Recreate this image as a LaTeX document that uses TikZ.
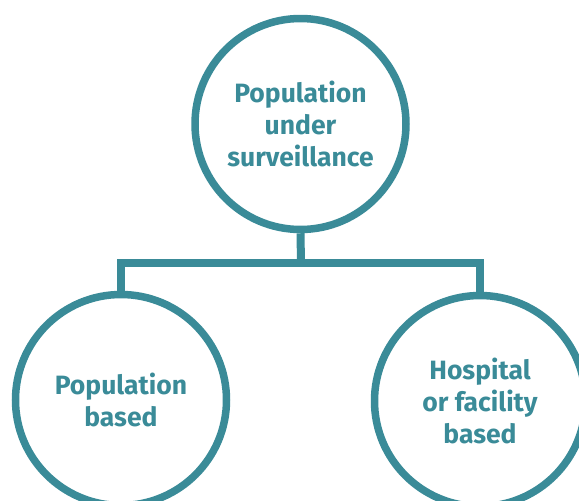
\documentclass[tikz,border=0pt]{standalone}
\usepackage{fontspec}
\setmainfont{Fira Sans}
\definecolor{teal1}{HTML}{3A8B98}
\begin{document}
\begin{tikzpicture}[x=1pt,y=-1pt,
  bubble/.style={circle,draw=teal1,line width=7.5pt,minimum size=211pt,inner sep=0pt,
    align=center,text=teal1,font=\fontsize{26.5}{32}\selectfont\bfseries},
  link/.style={draw=teal1,line width=8pt,line join=miter}]
\useasboundingbox (0,0) rectangle (579,501);
\node[bubble] (top) at (300.5,124) {Population\\under\\surveillance};
\node[bubble] (left) at (121,400) {Population\\based};
\node[bubble] (right) at (480,401) {Hospital\\or facility\\based};
\coordinate (j) at (301,263);
\draw[link] (top.south) -- (j);
\draw[link] (left.north) -- (left.north |- j) -- (right.north |- j) -- (right.north);
\end{tikzpicture}
\end{document}
